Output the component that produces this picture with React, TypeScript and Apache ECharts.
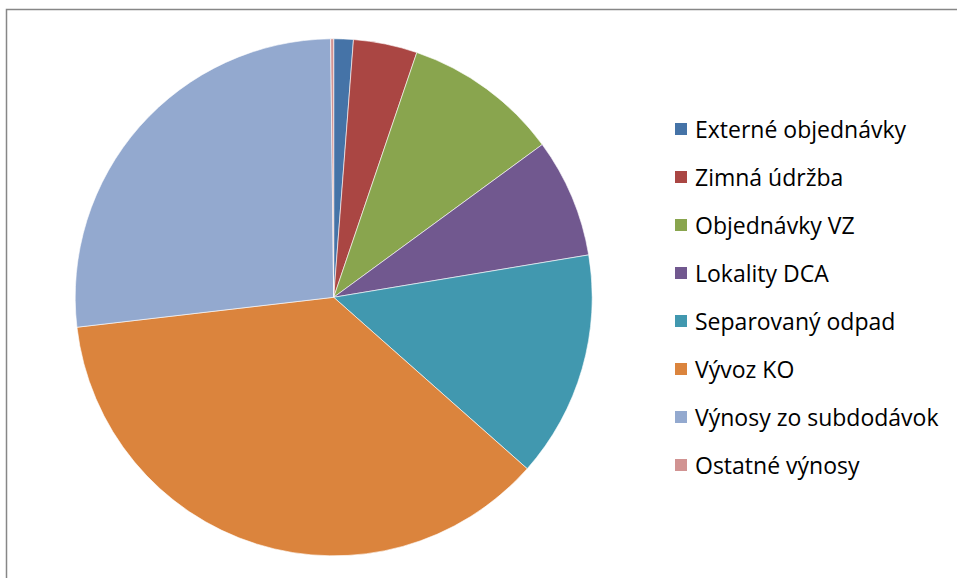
import React, { useEffect, useRef } from "react";
import * as echarts from "echarts";

const categories = [
  "Externé objednávky",
  "Zimná údržba",
  "Objednávky VZ",
  "Lokality DCA",
  "Separovaný odpad",
  "Vývoz KO",
  "Výnosy zo subdodávok",
  "Ostatné výnosy",
];
const values = [1.22, 3.99, 9.73, 7.44, 14.16, 36.62, 26.66, 0.19];
const colors = ["#4573A7", "#AA4643", "#89A54E", "#71588F", "#4198AF", "#DB843D", "#93A9CF", "#D19392"];

export default function App() {
  const ref = useRef<HTMLDivElement>(null);
  useEffect(() => {
    if (!ref.current) return;
    const chart = echarts.init(ref.current, null, { renderer: "svg" });
    chart.setOption({
      animation: false,
      backgroundColor: "#ffffff",
      color: colors,
      graphic: [
        {
          type: "rect",
          shape: { x: 6.5, y: 9.5, width: 1000, height: 1000 },
          style: { fill: "none", stroke: "#878787", lineWidth: 1.5 },
          silent: true,
        },
      ],
      legend: {
        orient: "vertical",
        left: 673,
        top: 116,
        padding: 0,
        itemWidth: 14,
        itemHeight: 14,
        itemGap: 22,
        icon: "rect",
        selectedMode: false,
        textStyle: {
          fontFamily: "Open Sans",
          fontSize: 23,
          color: "#000000",
          lineHeight: 26,
          padding: [0, 0, 0, 2],
        },
        data: categories,
      },
      series: [
        {
          type: "pie",
          center: [333.7, 297.3],
          radius: 258.5,
          startAngle: 90,
          clockwise: true,
          label: { show: false },
          labelLine: { show: false },
          itemStyle: { borderColor: "#ffffff", borderWidth: 0.6 },
          emphasis: { disabled: true },
          data: categories.map((name, i) => ({ name, value: values[i] })),
        },
      ],
    });
    return () => chart.dispose();
  }, []);
  return (
    <div
      ref={ref}
      style={{ position: "absolute", left: 0, top: 0, width: 957, height: 578 }}
    />
  );
}
